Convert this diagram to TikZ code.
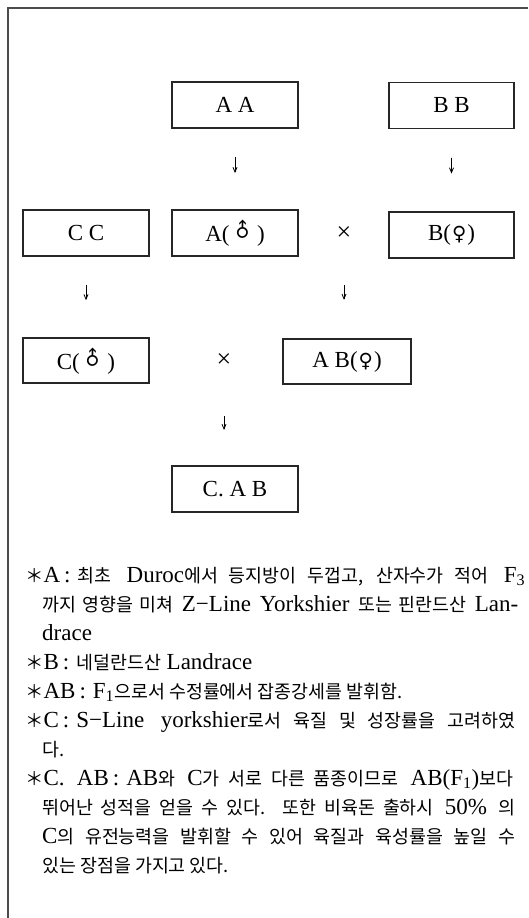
\documentclass[tikz,border=0pt]{standalone}
\usepackage{fontspec}
\usepackage{graphicx}
\setmainfont{Liberation Serif}
\newfontfamily\kr{Noto Sans CJK KR}[Scale=0.8]
\newfontfamily\symfont{DejaVu Sans}[Scale=0.85]
\usetikzlibrary{arrows, calc}

\newcommand\kor[1]{{\kr #1}}
\newcommand\colsep{\kern4pt:\kern7pt}
\newcommand\male{\kern2pt\rotatebox{45}{\symfont ♂}\kern3pt}
\newcommand\female{\kern1pt{\symfont ♀}\kern1pt}

\begin{document}
\begin{tikzpicture}
        [x=1pt, y=-1pt,
        breed/.style={draw=black!85, line width=1.1pt, minimum width=126pt,
          minimum height=46pt, inner sep=0pt, font=\fontsize{23}{23}\selectfont},
        cross/.style={inner sep=0pt, font=\fontsize{26}{26}\selectfont},
        arr/.style={->,>=angle 45,line width=0.8pt},
        note/.style={anchor=base west, inner sep=0pt, align=left,
          font=\fontsize{23}{29}\selectfont}]
        \useasboundingbox (0,0) rectangle (528,918);
        % frame of the page
        \draw[black!70, line width=1.4pt] (8,918) -- (8,8) -- (528,8);

        % parents
        \node (AA) at (235,105) [breed] {A A};
        \node (BB) at (451.5,105.5) [breed, minimum width=125pt] {B B};
        \node (CC) at (86,233) [breed] {C C};
        \node (Am) at (235,233) [breed] {A(\male)};
        \node (x1) at (344,234) [cross] {×};
        \node (Bf) at (451.5,235) [breed, minimum width=125pt] {B(\female)};
        \node (Cm) at (86,360.5) [breed, minimum height=45pt] {C(\male)};
        \node (x2) at (224,361) [cross] {×};
        \node (ABf) at (347,361.5) [breed, minimum width=128pt, minimum height=45pt] {A B(\female)};
        \node (CAB) at (235,489) [breed] {C. A B};

        \draw[arr] ($(AA.south)!0.35!(Am.north)$) -- ($(AA.south)!0.55!(Am.north)$);
        \draw[arr] ($(BB.south)!0.35!(Bf.north)$) -- ($(BB.south)!0.54!(Bf.north)$);
        \draw[arr] ($(CC.south)!0.35!(Cm.north)$) -- ($(CC.south)!0.54!(Cm.north)$);
        \draw[arr] ($(x1)!0.49!(x1 |- ABf.north)$) -- ($(x1)!0.63!(x1 |- ABf.north)$);
        \draw[arr] ($(x2)!0.53!(x2 |- CAB.north)$) -- ($(x2)!0.66!(x2 |- CAB.north)$);

        % notes (placed by the baseline of their last line)
        \node (noteA) at (25,640) [note]
          {\makebox[500pt][s]{\kor{＊}A\colsep\kor{최초} Duroc\kor{에서 등지방이 두껍고, 산자수가 적어} F\textsubscript{3}}\\
           \hspace*{17pt}\makebox[476pt][s]{\kor{까지 영향을 미쳐} Z−Line Yorkshier \kor{또는 핀란드산} Lan-}\\
           \hspace*{17pt}drace};
        \node (noteB) at (25,669) [note]
          {\kor{＊}B\colsep\kor{네덜란드산} Landrace};
        \node (noteAB) at (25,698) [note]
          {\kor{＊}AB\colsep F\textsubscript{1}\kor{으로서 수정률에서 잡종강세를 발휘함.}};
        \node (noteC) at (25,756) [note]
          {\makebox[490pt][s]{\kor{＊}C\colsep S−Line yorkshier\kor{로서 육질 및 성장률을 고려하였}}\\
           \hspace*{17pt}\kor{다.}};
        \node (noteCAB) at (25,872) [note]
          {\makebox[488pt][s]{\kor{＊}C. AB\colsep AB\kor{와} C\kor{가 서로 다른 품종이므로} AB(F\textsubscript{1})\kor{보다}}\\
           \hspace*{17pt}\makebox[473pt][s]{\kor{뛰어난 성적을 얻을 수 있다. 또한 비육돈 출하시} 50\% \kor{의}}\\
           \hspace*{17pt}\makebox[473pt][s]{C\kor{의 유전능력을 발휘할 수 있어 육질과 육성률을 높일 수}}\\
           \hspace*{17pt}\kor{있는 장점을 가지고 있다.}};
\end{tikzpicture}
\end{document}
